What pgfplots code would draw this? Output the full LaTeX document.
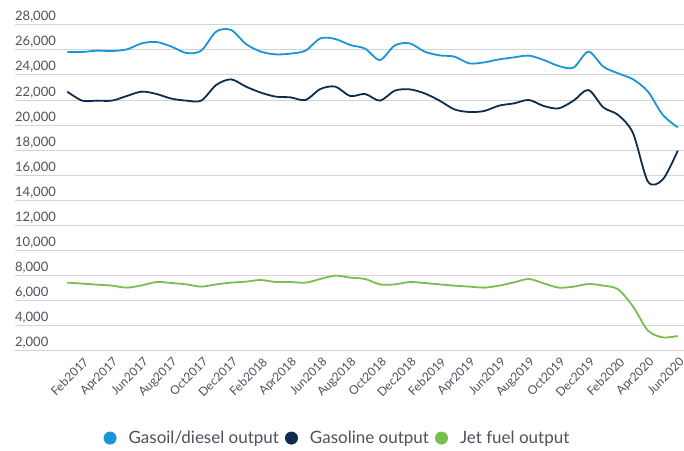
\documentclass[border=0pt]{standalone}
\usepackage{fontspec}
\setmainfont{Lato}
\usepackage{pgfplots}
\pgfplotsset{compat=1.18}
\definecolor{gasoil}{RGB}{28,148,214}
\definecolor{gasoline}{RGB}{13,44,80}
\definecolor{jetfuel}{RGB}{120,190,80}
\definecolor{txtgrey}{RGB}{80,80,94}
\definecolor{gridgrey}{RGB}{212,212,212}

\pgfplotstableread{
i gasoil gasoline jet
0 25840 22670 7390
1 25840 21950 7310
2 25950 21950 7230
3 25920 21950 7150
4 26050 22320 6990
5 26530 22670 7170
6 26640 22480 7440
7 26270 22110 7360
8 25760 21950 7250
9 25950 21950 7070
10 27470 23200 7250
11 27600 23650 7390
12 26480 23070 7470
13 25870 22590 7600
14 25650 22270 7440
15 25710 22210 7440
16 25950 22000 7390
17 26930 22880 7680
18 26880 23070 7950
19 26400 22320 7790
20 26110 22480 7680
21 25200 21950 7250
22 26370 22750 7250
23 26530 22850 7440
24 25870 22530 7360
25 25570 21950 7250
26 25470 21250 7150
27 24930 21040 7070
28 25010 21120 6990
29 25250 21550 7150
30 25410 21730 7410
31 25550 22000 7680
32 25200 21520 7330
33 24720 21330 6990
34 24590 21950 7070
35 25870 22800 7280
36 24670 21410 7150
37 24130 20800 6850
38 23650 19330 5470
39 22670 15470 3550
40 20800 15650 3010
41 19810 17950 3120
}\fuel

\pgfplotsset{
  dotlegend/.style={legend image code/.code={
    \path[draw=none, fill=none] (0pt,-6.5pt) rectangle (23pt,6.5pt);
    \fill[draw=none, fill=#1] (6.5pt,0pt) circle (6.5pt);
  }},
}

\begin{document}
\begin{tikzpicture}
\path[use as bounding box] (-15pt,-100pt) rectangle (669pt,350pt);
\begin{axis}[
  at={(0pt,0pt)}, anchor=south west,
  scale only axis, width=669pt, height=325pt,
  xmin=-3.51, xmax=41.42,
  ymin=2000, ymax=28000,
  ytick={2000,4000,...,28000},
  scaled y ticks=false,
  /pgf/number format/assume math mode=true,
  /pgf/number format/1000 sep={,},
  ymajorgrids,
  grid style={draw=gridgrey, line width=1pt},
  axis line style={draw=none},
  major tick length=0pt,
  xtick={1,3,...,41},
  xticklabels={Feb2017,Apr2017,Jun2017,Aug2017,Oct2017,Dec2017,
    Feb2018,Apr2018,Jun2018,Aug2018,Oct2018,Dec2018,
    Feb2019,Apr2019,Jun2019,Aug2019,Oct2019,Dec2019,
    Feb2020,Apr2020,Jun2020},
  xticklabel style={rotate=45, anchor=east, inner sep=0pt, xshift=-4pt, yshift=-10pt,
    font=\fontsize{12}{14}\selectfont, text=txtgrey},
  yticklabel style={anchor=base west, inner sep=0pt, yshift=4pt,
    font=\fontsize{13}{15}\selectfont, text=txtgrey},
  legend style={at={(0.482,-0.271)}, anchor=center, draw=none, fill=none,
    font=\fontsize{17}{20}\selectfont, text=txtgrey,
    /tikz/every even column/.append style={column sep=4pt}},
  legend columns=3,
]
\addplot[color=gasoil, line width=1.8pt, smooth, dotlegend=gasoil] table[x=i, y=gasoil] {\fuel};
\addplot[color=gasoline, line width=1.8pt, smooth, dotlegend=gasoline] table[x=i, y=gasoline] {\fuel};
\addplot[color=jetfuel, line width=1.8pt, smooth, dotlegend=jetfuel] table[x=i, y=jet] {\fuel};
\legend{Gasoil/diesel output, Gasoline output, Jet fuel output}
\end{axis}
\end{tikzpicture}
\end{document}
